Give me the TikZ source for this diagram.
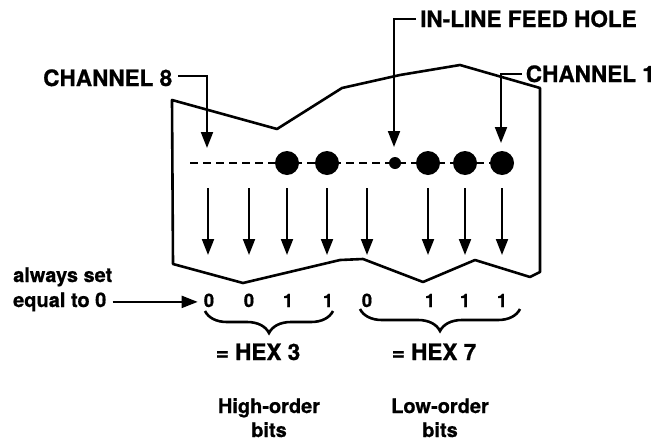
\documentclass[tikz,border=0pt]{standalone}
\usepackage{fontspec}
\setmainfont{TeX Gyre Heros}[BoldFeatures={FakeBold=0.8}]
\usetikzlibrary{arrows.meta,decorations.pathreplacing}
\newlength{\chwidth}
\begin{document}
\settowidth{\chwidth}{\bfseries\fontsize{22}{26}\selectfont CHANNEL 8}%
\pgfmathsetmacro{\kfac}{129/\chwidth}%
\pgfmathsetmacro{\fsA}{22*\kfac}%
\pgfmathsetmacro{\fsB}{19.5*\kfac}%
\pgfmathsetmacro{\fsC}{18*\kfac}%
\begin{tikzpicture}[x=1pt,y=-1pt,
  lbl/.style={font=\bfseries\fontsize{\fsA}{26}\selectfont, inner sep=0pt},
  side/.style={font=\bfseries\fontsize{\fsB}{24}\selectfont, inner sep=0pt, anchor=base west},
  bit/.style={font=\bfseries\fontsize{\fsC}{20}\selectfont, inner sep=0pt, anchor=base},
  hexlbl/.style={font=\bfseries\fontsize{\fsA}{26}\selectfont, inner sep=0pt, anchor=base},
  sub/.style={font=\bfseries\fontsize{\fsB}{24}\selectfont, inner sep=0pt, align=center, anchor=base},
  hole/.style={circle, fill=black, minimum size=24pt, inner sep=0pt},
  feedhole/.style={circle, fill=black, minimum size=12pt, inner sep=0pt},
  outline/.style={line width=2.6pt, line join=round},
  ptr/.style={line width=2pt, -{Triangle[length=16pt,width=12pt]}},
  dashline/.style={line width=2pt, dash pattern=on 8pt off 5pt},
  bracestyle/.style={line width=2.6pt, decorate, decoration={brace, amplitude=22pt, mirror}}
]
\useasboundingbox (0,0) rectangle (658,442);

% tape outline
\draw[outline] (172,100) -- (277,129) -- (342,88) -- (400,75) -- (460,65) -- (540,88)
  -- (540,272) -- (530,277) -- (475,260) -- (423,282) -- (363,259) -- (340,260)
  -- (243,283) -- (173,264) -- cycle;

% dashed track and holes
\coordinate (dstart) at (190,163);
\coordinate (dend) at (502,163);
\draw[dashline] (dstart) -- (dend);
\node[hole] (h6) at (287,163) {};
\node[hole] (h5) at (327,163) {};
\node[feedhole] (fh) at (395,163) {};
\node[hole] (h3) at (428,163) {};
\node[hole] (h2) at (465,163) {};
\node[hole] (h1) at (502,163) {};

% labels with leaders
\node[lbl, anchor=base west] (ch8) at (43,86) {CHANNEL 8};
\coordinate (t8) at (207,148);
\draw[ptr] (ch8.east) ++(6pt,2pt) coordinate (c8s) -| (t8);

\node[lbl, anchor=base west] (feed) at (420,27) {IN-LINE FEED HOLE};
\coordinate (tf) at (394,147);
\draw[ptr] (feed.west) ++(-4pt,0) coordinate (cfs) -| (tf);

\node[lbl, anchor=base east] (ch1) at (655,82) {CHANNEL 1};
\coordinate (t1) at (501,143);
\draw[ptr] (ch1.west) ++(-4pt,0) coordinate (c1s) -| (t1);

% read arrows
\foreach \i/\x in {1/208,2/249,3/287,4/327,5/367,6/428,7/465,8/502}{
  \coordinate (s\i) at (\x,188);
  \coordinate (e\i) at (\x,255);
  \draw[ptr] (s\i) -- (e\i);
}

% bits
\foreach \i/\x/\v in {1/209/0,2/249/0,3/288/1,4/328/1,5/367/0,6/430/1,7/465/1,8/502/1}{
  \node[bit] (b\i) at (\x,307) {\v};
}

% side note
\node[side] (al) at (13,282) {always set};
\node[side] (eq) at (13,307) {equal to 0};
\draw[ptr, shorten <=6pt, shorten >=6pt] (eq.east) -- (eq.east -| b1.west);

% braces
\coordinate (br1a) at (205,311);
\coordinate (br1b) at (333,311);
\coordinate (br2a) at (360,309);
\coordinate (br2b) at (520,309);
\draw[bracestyle] (br1a) -- (br1b);
\draw[bracestyle] (br2a) -- (br2b);

\node[hexlbl] (hex3) at (258,360) {= HEX 3};
\node[hexlbl] (hex7) at (434,360) {= HEX 7};

\node[sub] (hi) at (269,437) {High-order\\bits};
\node[sub] (lo) at (440,437) {Low-order\\bits};
\end{tikzpicture}
\end{document}
